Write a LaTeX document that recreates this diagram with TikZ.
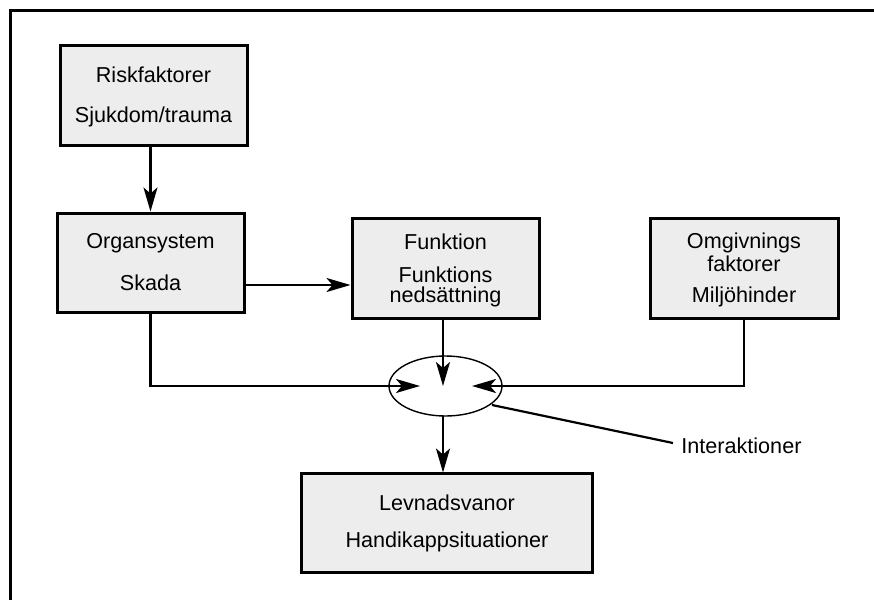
\documentclass[tikz,border=0pt]{standalone}
\usepackage{fontspec}
\setmainfont{Liberation Sans}
\usetikzlibrary{arrows.meta,shapes.geometric}
\definecolor{boxfill}{HTML}{EDEDED}
\begin{document}
\begin{tikzpicture}[x=0.5pt,y=-0.5pt,
  box/.style={draw=black,line width=1.5pt,fill=boxfill,rectangle,inner sep=0pt},
  lbl/.style={inner sep=0pt,font=\fontsize{10.8}{12}\selectfont,align=center},
  conn/.style={line width=1.1pt,-{Stealth[length=12pt,width=7pt,inset=3pt]}},
  plain/.style={line width=1.1pt}]
\useasboundingbox (0,0) rectangle (874,600);
\draw[line width=1.5pt] (10.5,601) -- (10.5,10.5) -- (875,10.5);
% boxes
\node[box,minimum width=93.5pt,minimum height=50pt] (risk) at (153.5,95) {};
\node[box,minimum width=93.5pt,minimum height=49.5pt] (org) at (150.5,262.5) {};
\node[box,minimum width=93.5pt,minimum height=50pt] (fun) at (445.5,268) {};
\node[box,minimum width=94pt,minimum height=50pt] (omg) at (744,268) {};
\node[box,minimum width=145.5pt,minimum height=49.5pt] (lev) at (447,522.5) {};
\node[draw,line width=0.7pt,ellipse,minimum width=56.5pt,minimum height=30pt,inner sep=0pt] (ell) at (445.5,386) {};
% texts
\node[lbl] (t1) at (153.5,75) {Riskfaktorer};
\node[lbl] (t2) at (153.5,117) {Sjukdom/trauma};
\node[lbl] (t3) at (150.5,243) {Organsystem};
\node[lbl] (t4) at (150.5,283) {Skada};
\node[lbl] (t5) at (445.5,242) {Funktion};
\node[lbl] (t6) at (445.5,275) {Funktions};
\node[lbl] (t7) at (445.5,297) {nedsättning};
\node[lbl] (t8) at (744,243) {Omgivnings};
\node[lbl] (t9) at (744,264) {faktorer};
\node[lbl] (t10) at (744,297) {Miljöhinder};
\node[lbl] (t11) at (447,503) {Levnadsvanor};
\node[lbl] (t12) at (447,542) {Handikappsituationer};
\node[lbl,anchor=west] (inter) at (681,446) {Interaktioner};
% coordinates
\coordinate (tipL) at (420,386);
\coordinate (tipR) at (472,386);
\coordinate (tipD) at (443,386);
\coordinate (elb) at (443,416);
\coordinate (levt) at (443,472.5);
\coordinate (ellp) at (492,405);
\coordinate (intl) at (673,443);
% connectors
\draw[conn] (risk.south -| org.south) -- (org.north);
\draw[conn] (org.east |- 0,285) -- (fun.west |- 0,285);
\draw[conn] (tipD |- fun.south) -- (tipD);
\draw[conn] (org.south) |- (tipL);
\draw[conn] (omg.south) |- (tipR);
\draw[conn] (elb) -- (levt);
\draw[plain] (ellp) -- (intl);
\end{tikzpicture}
\end{document}
